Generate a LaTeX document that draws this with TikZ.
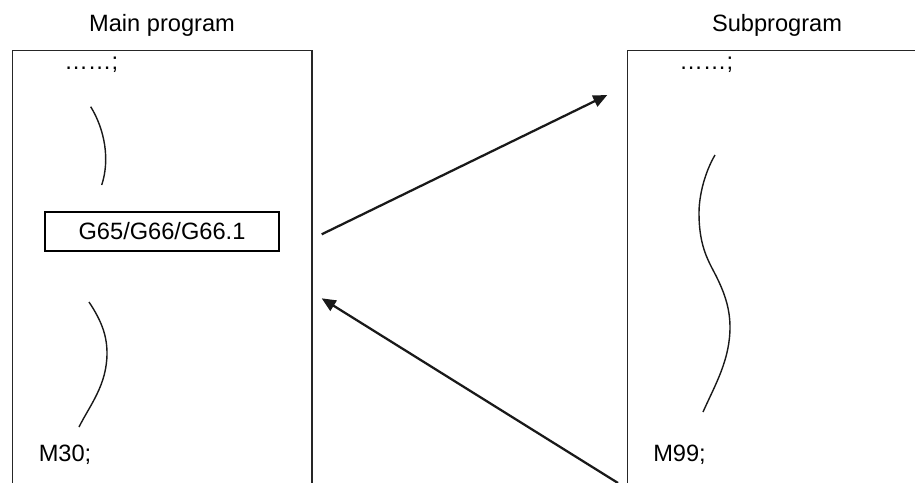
\documentclass[tikz,border=0pt]{standalone}
\usepackage{fontspec}
\setmainfont{Liberation Sans}
\usetikzlibrary{arrows.meta}

\begin{document}
\begin{tikzpicture}[
  x=0.025cm,y=-0.025cm,
  label/.style={anchor=base,inner sep=0pt,font=\fontsize{16.8}{20}\selectfont},
  code/.style={anchor=base west,inner sep=0pt,font=\fontsize{16.8}{20}\selectfont},
  frame/.style={line width=1pt,black!85},
  flow/.style={line width=1.6pt,black!90,-{Triangle[length=10pt,width=8.5pt]}},
  wiggle/.style={line width=1pt,black!90}
]
  \useasboundingbox (0,0) rectangle (915,482);

  % titles
  \node[label] (maintitle) at (162,31.7) {Main program};
  \node[label] (subtitle) at (777,31.7) {Subprogram};

  % program frames, open at the bottom
  \draw[frame] (12.5,484) -- (12.5,50.7) -- (312,50.7) -- (312,484);
  \draw[frame] (627.3,484) -- (627.3,50.7) -- (917,50.7);

  % main program
  \node[code] (maindots) at (64,69.5) {……;};
  \draw[wiggle] (90.7,106.7) .. controls (105,130) and (110,160) .. (101.7,185);
  \node[draw,line width=1pt,inner sep=0pt,
    font=\fontsize{16.8}{20}\selectfont,
    minimum height=39*0.025cm,minimum width=234*0.025cm] (callbox) at (162,231.5) {G65/G66/G66.1};
  \draw[wiggle] (89,302) .. controls (101,320) and (107,335) .. (107,353)
    .. controls (107,385) and (90,405) .. (79,427);
  \node[code] (mainend) at (38.5,461.7) {M30;};

  % subprogram
  \node[code] (subdots) at (679,69.5) {……;};
  \draw[wiggle] (715,155) .. controls (705,172) and (699,195) .. (699,213)
    .. controls (699,240) and (705,255) .. (713,270)
    .. controls (722,287) and (730,305) .. (730,327)
    .. controls (730,360) and (715,385) .. (703,412);
  \node[code] (subend) at (653,461.7) {M99;};

  % call and return
  \coordinate (callfrom) at (321.7,234.3);
  \coordinate (subentry) at (607.3,95);
  \coordinate (subexit) at (618,483);
  \coordinate (returnto) at (321.7,298.3);
  \draw[flow] (callfrom) -- (subentry);
  \draw[flow] (subexit) -- (returnto);
\end{tikzpicture}
\end{document}
